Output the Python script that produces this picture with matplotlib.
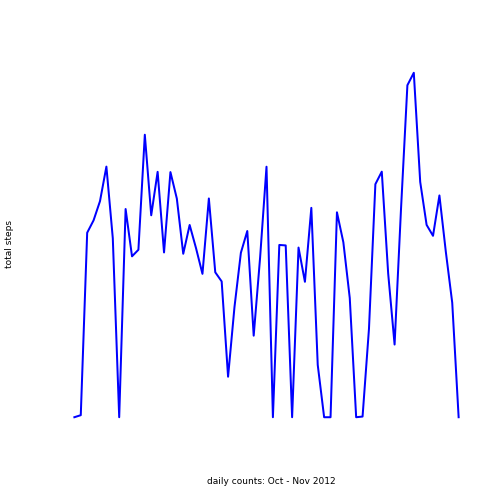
import matplotlib
matplotlib.use("Agg")
import matplotlib.pyplot as plt

# total steps per day, 2012-10-01 .. 2012-11-30 (missing days as 0)
steps = [0, 126, 11352, 12116, 13294, 15420, 11015, 0, 12811, 9900,
         10304, 17382, 12426, 15098, 10139, 15084, 13452, 10056, 11829, 10395,
         8821, 13460, 8918, 8355, 2492, 6778, 10119, 11458, 5018, 9819,
         15414, 0, 10600, 10571, 0, 10439, 8334, 12883, 3219, 0,
         0, 12608, 10765, 7336, 0, 41, 5441, 14339, 15110, 8841,
         4472, 12787, 20427, 21194, 14478, 11834, 11162, 13646, 10183, 7047,
         0]
days = list(range(1, len(steps) + 1))

fig = plt.figure(figsize=(7, 7), dpi=72)
W = 504
ax = fig.add_axes([59 / W, 73 / W, (474 - 59) / W, (445 - 73) / W])
ax.plot(days, steps, color="blue", linewidth=2)
ax.margins(x=0.04, y=0.04)
ax.axis("off")

fig.text(271 / W, 1 - 482 / W, "daily counts: Oct - Nov 2012", ha="center", va="center", fontsize=9)
fig.text(10 / W, 1 - 244 / W, "total steps", ha="center", va="center", rotation=90, fontsize=9)

fig.savefig("out.png", dpi=72)
